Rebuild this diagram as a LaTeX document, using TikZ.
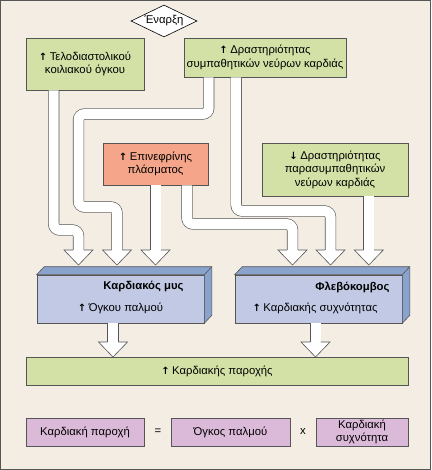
\documentclass[tikz,border=0pt]{standalone}
\usepackage{fontspec}
\setmainfont{Liberation Sans}
\newfontfamily\arrowfont{DejaVu Sans}
\usetikzlibrary{shapes.geometric}
\definecolor{bgbeige}{RGB}{243,237,227}
\definecolor{boxgreen}{RGB}{211,225,166}
\definecolor{boxred}{RGB}{245,165,138}
\definecolor{boxblue}{RGB}{193,201,228}
\definecolor{sideblue}{RGB}{138,163,204}
\definecolor{boxpink}{RGB}{219,186,217}
\definecolor{edgegray}{RGB}{85,85,85}
\newcommand{\diafont}{\fontsize{11.3}{13.5}\selectfont}
\newcommand{\incr}{{\arrowfont\bfseries\fontsize{10}{10}\selectfont ↑}\hspace{2.5pt}}
\newcommand{\decr}{{\arrowfont\bfseries\fontsize{10}{10}\selectfont ↓}\hspace{2.5pt}}
\newcommand{\headat}[1]{\filldraw[fill=white, draw=edgegray, line width=0.6pt] ([xshift=-5.3pt]#1) -- ([xshift=-14.5pt]#1) -- ([yshift=-15pt]#1) -- ([xshift=14.5pt]#1) -- ([xshift=5.3pt]#1);}
\begin{document}
\begin{tikzpicture}[x=1pt, y=-1pt, font=\diafont,
  box/.style={draw=edgegray, line width=0.6pt, align=center, inner sep=0pt},
  greenbox/.style={box, fill=boxgreen},
  redbox/.style={box, fill=boxred},
  bluebox/.style={box, fill=boxblue, minimum width=167pt, minimum height=48pt},
  pinkbox/.style={box, fill=boxpink, minimum height=28pt},
  title/.style={font=\diafont\bfseries, anchor=east},
  fat/.style={draw=edgegray, line width=0.6pt, double=white, double distance=10pt, rounded corners=6pt}]
\useasboundingbox (0,0) rectangle (431,470);
\draw[draw=edgegray, fill=bgbeige, line width=0.9pt] (0.5,0.5) rectangle (430.5,469.5);
\node[diamond, draw=black, fill=white, line width=0.6pt, inner sep=0pt, aspect=2, minimum width=66pt, minimum height=32pt] (start) at (164,21) {Έναρξη};
\node[greenbox, minimum width=118pt, minimum height=52pt] (telos) at (85,64) {\incr Τελοδιαστολικού\\κοιλιακού όγκου};
\node[greenbox, minimum width=162pt, minimum height=39pt] (symp) at (265,57.5) {\incr Δραστηριότητας\\συμπαθητικών νεύρων καρδιάς};
\node[redbox, minimum width=105pt, minimum height=42pt] (epi) at (155.5,164) {\incr Επινεφρίνης\\πλάσματος};
\node[greenbox, minimum width=146pt, minimum height=53pt] (para) at (335,169.5) {\decr Δραστηριότητας\\παρασυμπαθητικών\\νεύρων καρδιάς};
\node[bluebox] (muscle) at (120.5,299) {};
\node[bluebox] (sinus) at (318.5,299) {};
\foreach \b in {muscle,sinus} {
  \filldraw[fill=sideblue, draw=edgegray, line width=0.6pt] (\b.north west) -- ++(7.5,-8) -- ([shift={(7.5,-8)}]\b.north east) -- ([shift={(7.5,-8)}]\b.south east) -- (\b.south east) -- (\b.north east) -- cycle;
  \draw[draw=edgegray, line width=0.6pt] (\b.north east) -- ++(7.5,-8);
}
\node[title] (musclename) at (187,287) {Καρδιακός μυς};
\node (musclevol) at (120.5,308) {\incr Όγκου παλμού};
\node[title] (sinusname) at (393,287) {Φλεβόκομβος};
\node (sinusrate) at (315,308) {\incr Καρδιακής συχνότητας};
\node[greenbox, minimum width=382pt, minimum height=28pt] (output) at (217,371) {\incr Καρδιακής παροχής};
\node[pinkbox, minimum width=118pt] (eqout) at (85,432) {Καρδιακή παροχή};
\node (eqsign) at (158,432) {=};
\node[pinkbox, minimum width=119pt] (eqvol) at (230.5,432) {Όγκος παλμού};
\node (times) at (303,432) {x};
\node[pinkbox, minimum width=92pt] (eqrate) at (362,432) {Καρδιακή\\συχνότητα};
\coordinate (hA) at (78.5,250);
\coordinate (hB) at (117,250);
\coordinate (hC) at (155.5,250);
\coordinate (hD) at (292.5,250);
\coordinate (hE) at (330.5,250);
\coordinate (hF) at (368.8,250);
\coordinate (hG) at (113,342);
\coordinate (hH) at (315.5,342);
\draw[fat] ([xshift=-31.3pt]telos.south) -- (53.7,230) -- (78.5,230) -- (hA);
\draw[fat] ([xshift=-56.3pt]symp.south) -- (208.7,114) -- (78.5,114) -- (78.5,207) -- (117,207) -- (hB);
\draw[fat] (epi.south) -- (hC);
\draw[fat] ([xshift=31.5pt]epi.south) -- (187,224) -- (292.5,224) -- (hD);
\draw[fat] ([xshift=-28.8pt]symp.south) -- (236.2,211) -- (330.5,211) -- (hE);
\draw[fat] ([xshift=33.8pt]para.south) -- (hF);
\draw[fat] ([xshift=-7.5pt]muscle.south) -- (hG);
\draw[fat] ([xshift=-3pt]sinus.south) -- (hH);
\foreach \h in {hA,hB,hC,hD,hE,hF,hG,hH} {\headat{\h}}
\end{tikzpicture}
\end{document}
